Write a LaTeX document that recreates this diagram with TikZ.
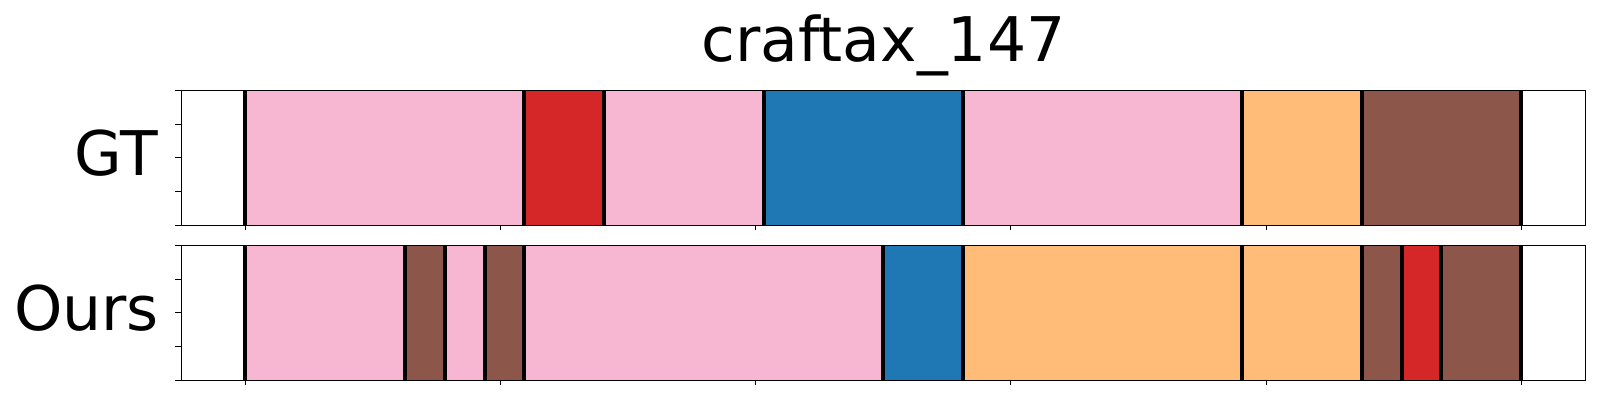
\documentclass[tikz,border=0pt]{standalone}
\usepackage{fontspec}
\setmainfont{DejaVu Sans}
\usetikzlibrary{positioning}
\definecolor{pinkseg}{HTML}{F7B6D2}
\definecolor{redseg}{HTML}{D62728}
\definecolor{blueseg}{HTML}{1F77B4}
\definecolor{orangeseg}{HTML}{FFBB78}
\definecolor{brownseg}{HTML}{8C564B}

\begin{document}
\begin{tikzpicture}
[x=0.01cm,y=-0.01cm,
 every node/.style={font=\fontsize{17.5}{21}\selectfont,inner sep=0pt,outer sep=0pt},
 bound/.style={black,line width=0.04cm},
 axframe/.style={draw=black,line width=0.011cm},
 tickmark/.style={black,line width=0.011cm}]
\useasboundingbox (0,0) rectangle (1600,400);

\node[anchor=base] (title) at (883.3,61.7) {craftax\_147};
\node[anchor=base east] (gt)   at (158,175) {GT};
\node[anchor=base east] (ours) at (159,330) {Ours};

% GT row
\foreach \a/\b/\c in {245/524/pinkseg,524/603.7/redseg,603.7/763.7/pinkseg,
  763.7/962.7/blueseg,962.7/1241.7/pinkseg,1241.7/1361.7/orangeseg,1361.7/1521/brownseg}
  \path[fill=\c,draw=\c!85!black,line width=0.3pt] (\a,90.3) rectangle (\b,225.3);
\foreach \a in {245,524,603.7,763.7,962.7,1241.7,1361.7,1521}
  \draw[bound] (\a,90.3) -- (\a,225.3);

% Ours row
\foreach \a/\b/\c in {245/405/pinkseg,405/445/brownseg,445/485/pinkseg,485/524/brownseg,
  524/883/pinkseg,883/962.7/blueseg,962.7/1241.7/orangeseg,1241.7/1361.7/orangeseg,
  1361.7/1402/brownseg,1402/1440.7/redseg,1440.7/1521/brownseg}
  \path[fill=\c,draw=\c!85!black,line width=0.3pt] (\a,245.3) rectangle (\b,380.3);
\foreach \a in {245,405,445,485,524,883,962.7,1241.7,1361.7,1402,1440.7,1521}
  \draw[bound] (\a,245.3) -- (\a,380.3);

% frames and ticks
\foreach \t in {90.3,245.3}{
  \draw[axframe] (181.3,\t) rectangle (1585.3,\t+135);
  \foreach \k in {0,...,4}
    \draw[tickmark] (175.3,\t+\k*33.75) -- (181.3,\t+\k*33.75);
  \foreach \k in {0,...,5}
    \draw[tickmark] (245.3+\k*255.2,\t+135) -- (245.3+\k*255.2,\t+140);
}
\end{tikzpicture}
\end{document}
